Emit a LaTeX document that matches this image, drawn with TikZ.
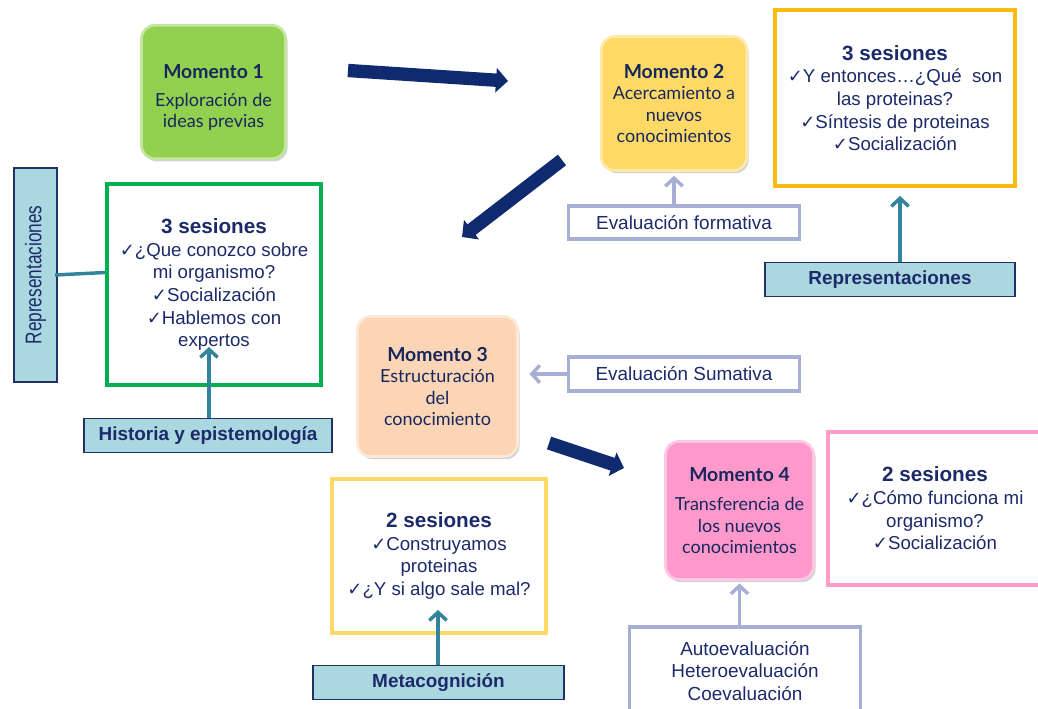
\documentclass[tikz,border=0pt]{standalone}
\usepackage{fontspec}
\setmainfont{Liberation Sans}
\newfontfamily\momfont{Lato}
\newfontfamily\symfont{DejaVu Sans}
\usetikzlibrary{arrows.meta,shadows,calc}

\definecolor{navytext}{HTML}{1C2A6A}
\definecolor{momtext}{HTML}{17275C}
\definecolor{arrownavy}{HTML}{0F2A6E}
\definecolor{tealarrow}{HTML}{31849B}
\definecolor{lavender}{HTML}{A7AFD5}
\definecolor{lightblue}{HTML}{ABD7E1}
\definecolor{bluerim}{HTML}{1F3266}
\definecolor{mgreen}{HTML}{92D050}
\definecolor{myellow}{HTML}{FFD966}
\definecolor{mpeach}{HTML}{FBD5B5}
\definecolor{mpink}{HTML}{FF99CC}
\definecolor{sorange}{HTML}{FFBA12}
\definecolor{sgreen}{HTML}{00B050}
\definecolor{syellow}{HTML}{FFD966}
\definecolor{spink}{HTML}{FF9CCC}

% check mark used in the session lists
\newcommand{\chk}{{\symfont\fontsize{13.5}{14}\selectfont ✓}}
\newcommand{\momtitle}[1]{\textbf{\fontsize{14.5}{17}\selectfont #1}}
\newcommand{\sestitle}[1]{\textbf{\fontsize{15.5}{18}\selectfont #1}}

\tikzset{
  momento/.style={rounded corners=10pt, fill=#1, draw=#1!55!white, line width=2pt,
    drop shadow={opacity=0.35, shadow xshift=1.5pt, shadow yshift=-2pt},
    text=momtext, align=center, inner sep=2pt,
    font=\momfont\fontsize{13.5}{16}\selectfont},
  sesbox/.style={draw=#1, line width=3pt, fill=white, align=center, text=navytext,
    inner sep=2pt, font=\fontsize{14}{17}\selectfont},
  evalbox/.style={draw=lavender, line width=2.6pt, fill=white, align=center,
    text=navytext, inner sep=2pt, font=\fontsize{14.2}{17}\selectfont},
  tagbox/.style={draw=bluerim, line width=1.3pt, fill=lightblue, align=center,
    text=navytext, inner sep=2pt, font=\bfseries\fontsize{14.2}{17}\selectfont},
  bigarrow/.style={draw=arrownavy, line width=10pt,
    -{Triangle[length=9pt,width=18pt]}},
  tealline/.style={draw=tealarrow, line width=2.6pt},
  tealarrow/.style={tealline, -{Straight Barb[length=6pt,width=13pt]}},
  lavarrow/.style={draw=lavender, line width=2.6pt,
    -{Straight Barb[length=6pt,width=13pt]}},
}

\begin{document}
\begin{tikzpicture}[x=0.75pt,y=-0.75pt]
\useasboundingbox[fill=white] (0,0) rectangle (1038,709);

% the four moments
\node[momento=mgreen, minimum width=108pt, minimum height=100pt] (m1) at (213.5,92)
  {\raisebox{-5pt}[\height][\depth]{\begin{tabular}{@{}c@{}}\momtitle{Momento 1}\\[5pt]Exploración de\\ideas previas\end{tabular}}};
\node[momento=myellow, minimum width=109pt, minimum height=100.5pt] (m2) at (674,103.5)
  {\momtitle{Momento 2}\\Acercamiento a\\nuevos\\conocimientos};
\node[momento=mpeach, minimum width=120pt, minimum height=105pt] (m3) at (437.5,386.5)
  {\momtitle{Momento 3}\\Estructuración\\del\\conocimiento};
\node[momento=mpink, minimum width=111pt, minimum height=103.5pt] (m4) at (739.5,510.5)
  {\momtitle{Momento 4}\\[6pt]Transferencia de\\los nuevos\\conocimientos};

% session boxes
\node[sesbox=sorange, minimum width=180pt, minimum height=132pt] (s2) at (895,98)
  {\sestitle{3 sesiones}\\\chk Y entonces…¿Qué\ \ son\\las proteinas?\\\chk Síntesis de proteinas\\\chk Socialización};
\node[sesbox=sgreen, minimum width=160.5pt, minimum height=151pt] (s1) at (214,284.5)
  {\sestitle{3 sesiones}\\\chk ¿Que conozco sobre\\mi organismo?\\\chk Socialización\\\chk Hablemos con\\expertos};
\node[sesbox=syellow, minimum width=160.5pt, minimum height=116pt] (s3) at (439,556)
  {\sestitle{2 sesiones}\\\chk Construyamos\\proteinas\\\chk ¿Y si algo sale mal?};
\node[sesbox=spink, minimum width=161pt, minimum height=115pt] (s4) at (935,508.5)
  {\sestitle{2 sesiones}\\\chk ¿Cómo funciona mi\\organismo?\\\chk Socialización};

% evaluation boxes
\node[evalbox, minimum width=173.5pt, minimum height=25pt] (evf) at (684,222.5) {Evaluación formativa};
\node[evalbox, minimum width=173.5pt, minimum height=25.5pt] (evs) at (684,374) {Evaluación Sumativa};
\node[evalbox, minimum width=173.5pt, minimum height=66pt] (eva) at (745,671)
  {Autoevaluación\\Heteroevaluación\\Coevaluación};

% labelled strategy boxes
\node[tagbox, minimum width=188pt, minimum height=25.5pt] (repr) at (890,279.5) {Representaciones};
\node[tagbox, minimum width=186.5pt, minimum height=25.5pt] (hist) at (208,435.5) {Historia y epistemología};
\node[tagbox, minimum width=188.5pt, minimum height=25.5pt] (meta) at (438.5,682.5) {Metacognición};
\node[tagbox, minimum width=32.5pt, minimum height=161pt] (repv) at (35.5,275) {};
\node[rotate=90, text=navytext, inner sep=0pt] (repvt) at (repv.center)
  {\scalebox{0.76}[1]{\fontsize{17}{19}\selectfont Representaciones}};

% flow between the moments
\coordinate (a1s) at (348,70.5);  \coordinate (a1e) at (508,81);
\coordinate (a2s) at (562,160);   \coordinate (a2e) at (462,237);
\coordinate (a3s) at (549,443);   \coordinate (a3e) at (624,468);
\draw[bigarrow] (a1s) -- (a1e);
\draw[bigarrow] (a2s) -- (a2e);
\draw[bigarrow] (a3s) -- (a3e);

% evaluation pointers
\draw[lavarrow, shorten >=3pt] (evf.north -| m2.south) -- (m2.south);
\draw[lavarrow, shorten >=8pt] (evs.west) -- (evs.west -| m3.east);
\draw[lavarrow, shorten >=2pt] (eva.north -| m4.south) -- (m4.south);

% strategy pointers
\coordinate (htip) at (209,347);
\coordinate (mtip) at (438,610);
\draw[tealarrow, shorten >=6pt] (repr.north -| 900,0) -- (s2.south -| 900,0);
\draw[tealarrow] (hist.north -| htip) -- (htip);
\draw[tealarrow] (meta.north -| mtip) -- (mtip);
\draw[tealline] ($(repv.east)+(-3,0)$) -- ($(s1.west)+(0,-12)$);
\end{tikzpicture}
\end{document}
